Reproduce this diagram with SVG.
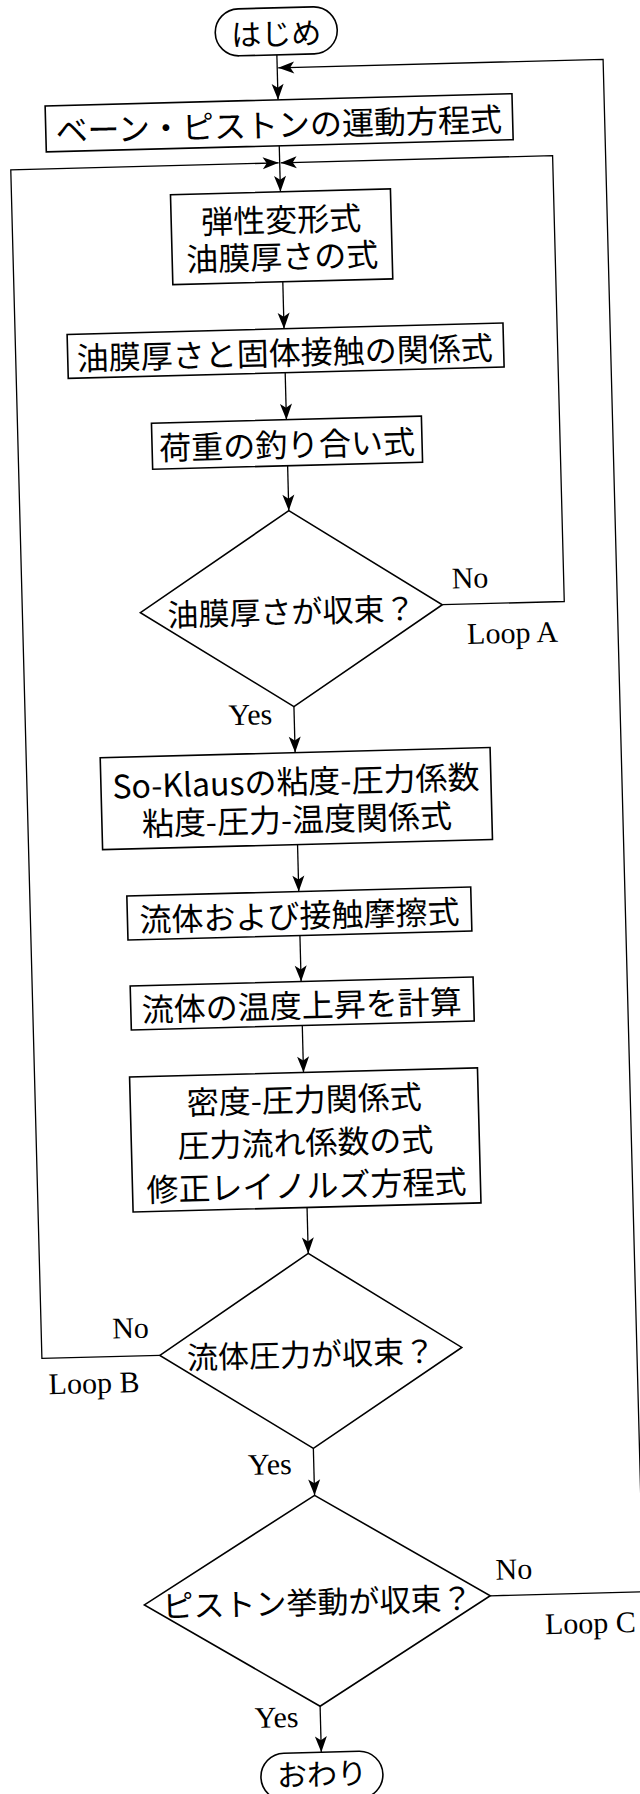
<svg xmlns="http://www.w3.org/2000/svg" width="640" height="1794" viewBox="0 0 640 1794">
  <style>
    .box { fill: #fff; stroke: #000; stroke-width: 1.6; }
    .jp { font-family: "Noto Sans CJK JP", "Noto Sans CJK SC", sans-serif; font-size: 32px; text-anchor: middle; dominant-baseline: central; fill: #000; }
    .jpd { font-size: 31px; }
    .jpt { font-size: 30px; }
    .lbl { font-family: "Liberation Serif", "Times New Roman", serif; font-size: 30px; fill: #000; }
    .conn path { fill: none; stroke: #000; stroke-width: 1.3; marker-end: url(#ah); }
  </style>
  <defs>
    <marker id="ah" markerUnits="userSpaceOnUse" markerWidth="18" markerHeight="14" viewBox="-17 -7 18 14" refX="0" refY="0" orient="auto">
      <path d="M0,0 L-16,-6 L-12,0 L-16,6 Z" fill="#000"/>
    </marker>
  </defs>
  <rect x="0" y="0" width="640" height="1794" fill="#fff"/>
  <g transform="rotate(-1.5 320 900)">
    <g class="conn" id="connectors">
      <path d="M299,54 V99"/>
      <path d="M299,145 V191"/>
      <path d="M299,281 V328"/>
      <path d="M299,372 V419"/>
      <path d="M299,465 V510"/>
      <path d="M299,706 V752"/>
      <path d="M299,844 V891"/>
      <path d="M299,935 V981"/>
      <path d="M299,1025 V1072"/>
      <path d="M299,1207 V1253"/>
      <path d="M299,1448 V1495"/>
      <path d="M299,1706 V1752"/>
      <path id="loopA" d="M450,608 H572 V162 H300"/>
      <path id="loopB" d="M148,1351 H30 V162 H298"/>
      <path id="loopC" d="M472,1600 H625 V67 H300"/>
    </g>

    <g id="start">
      <rect class="box" x="238" y="7" width="122" height="47" rx="23.5"/>
      <text class="jp jpt" x="299" y="31">はじめ</text>
    </g>
    <g id="n1">
      <rect class="box" x="66" y="99" width="467" height="46"/>
      <text class="jp" x="299" y="122">ベーン・ピストンの運動方程式</text>
    </g>
    <g id="n2">
      <rect class="box" x="189" y="191" width="220" height="90"/>
      <text class="jp" x="299" y="217">弾性変形式</text>
      <text class="jp" x="299" y="254">油膜厚さの式</text>
    </g>
    <g id="n3">
      <rect class="box" x="82" y="328" width="436" height="44"/>
      <text class="jp" x="299" y="350">油膜厚さと固体接触の関係式</text>
    </g>
    <g id="n4">
      <rect class="box" x="164" y="419" width="270" height="46"/>
      <text class="jp" x="299" y="442">荷重の釣り合い式</text>
    </g>
    <g id="d1">
      <polygon class="box" points="299,510 450,608 299,706 148,608"/>
      <text class="jp jpd" x="299" y="609">油膜厚さが収束？</text>
      <text class="lbl" x="460" y="592">No</text>
      <text class="lbl" x="474" y="648">Loop A</text>
      <text class="lbl" x="277" y="723" text-anchor="end">Yes</text>
    </g>
    <g id="n5">
      <rect class="box" x="104" y="752" width="390" height="92"/>
      <text class="jp" x="299" y="779">So-Klausの粘度-圧力係数</text>
      <text class="jp" x="299" y="817">粘度-圧力-温度関係式</text>
    </g>
    <g id="n6">
      <rect class="box" x="127" y="891" width="344" height="44"/>
      <text class="jp" x="299" y="913">流体および接触摩擦式</text>
    </g>
    <g id="n7">
      <rect class="box" x="128" y="981" width="343" height="44"/>
      <text class="jp" x="299" y="1003">流体の温度上昇を計算</text>
    </g>
    <g id="n8">
      <rect class="box" x="125" y="1072" width="348" height="135"/>
      <text class="jp" x="299" y="1097">密度-圧力関係式</text>
      <text class="jp" x="299" y="1140">圧力流れ係数の式</text>
      <text class="jp" x="299" y="1183">修正レイノルズ方程式</text>
    </g>
    <g id="d2">
      <polygon class="box" points="299,1253 450,1351 299,1448 148,1351"/>
      <text class="jp jpd" x="299" y="1352">流体圧力が収束？</text>
      <text class="lbl" x="101" y="1333">No</text>
      <text class="lbl" x="36" y="1387">Loop B</text>
      <text class="lbl" x="277" y="1473" text-anchor="end">Yes</text>
    </g>
    <g id="d3">
      <polygon class="box" points="299,1495 472,1600 299,1706 126,1600"/>
      <text class="jp jpd" x="299" y="1600">ピストン挙動が収束？</text>
      <text class="lbl" x="478" y="1584">No</text>
      <text class="lbl" x="526" y="1640">Loop C</text>
      <text class="lbl" x="277" y="1726" text-anchor="end">Yes</text>
    </g>
    <g id="end">
      <rect class="box" x="238" y="1752" width="122" height="47" rx="23.5"/>
      <text class="jp jpt" x="299" y="1772">おわり</text>
    </g>
  </g>
</svg>
